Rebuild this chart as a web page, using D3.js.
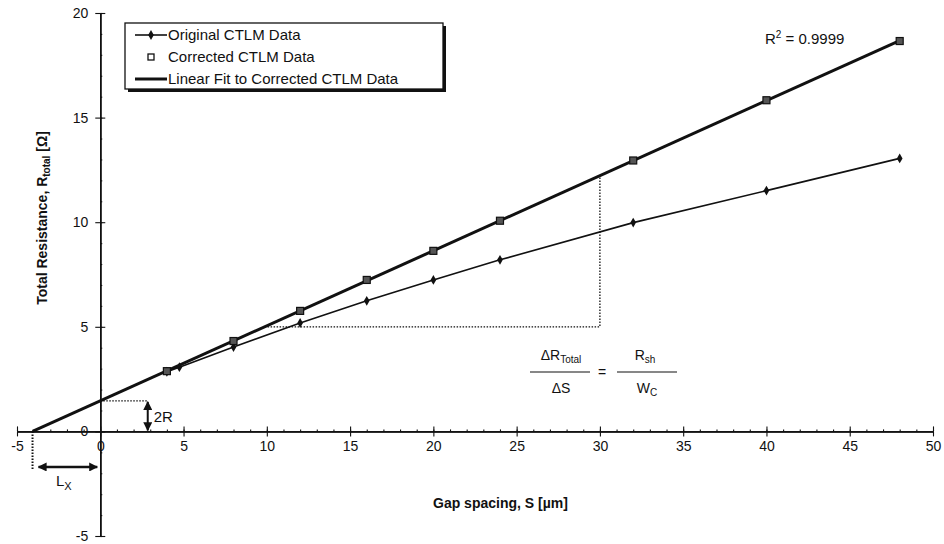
<!DOCTYPE html>
<html>
<head>
<meta charset="utf-8">
<script src="https://cdn.jsdelivr.net/npm/d3@7"></script>
<style>
  body { margin: 0; background: #fff; }
  text { font-family: "Liberation Sans", Arial, sans-serif; fill: #111; }
</style>
</head>
<body>
<svg id="svgCtlmChart" width="944" height="544"></svg>
<script>
// gap spacings of the corrected points [um]
const gapSpacing = [4, 8, 12, 16, 20, 24, 32, 40, 48];
const correctedR = [2.88, 4.32, 5.76, 7.24, 8.63, 10.07, 12.95, 15.83, 18.66];
// original measured data
const originalS = [4, 4.75, 8, 12, 16, 20, 24, 32, 40, 48];
const originalR = [2.85, 3.07, 4.03, 5.18, 6.24, 7.24, 8.2, 9.98, 11.51, 13.05];

const xTicks = [-5, 0, 5, 10, 15, 20, 25, 30, 35, 40, 45, 50];
const yTicks = [-5, 0, 5, 10, 15, 20];
const legendLabels = ["Original CTLM Data", "Corrected CTLM Data", "Linear Fit to Corrected CTLM Data"];
const rSquared = "0.9999";
// slope triangle drawn at these resistance / gap values
const slopeY = 5, slopeX = 30;
const lxArrowY = -1.7;
const twoRArrowX = 2.85;

const svg = d3.select("#svgCtlmChart");
const ink = "#111";

const x = d3.scaleLinear().domain([-5, 50]).range([17, 933]);
const y = d3.scaleLinear().domain([-5, 20]).range([536, 13]);

// least squares fit on corrected data
const mx = d3.mean(gapSpacing), my = d3.mean(correctedR);
let sxy = 0, sxx = 0;
gapSpacing.forEach(function(s, i) {
  sxy += (s - mx) * (correctedR[i] - my);
  sxx += (s - mx) * (s - mx);
});
const slope = sxy / sxx;
const intercept = my - slope * mx;
const lx = -intercept / slope;
const fit = function(s) { return intercept + slope * s; };

// arrow heads
const defs = svg.append("defs");
defs.append("marker")
  .attr("id", "arr")
  .attr("viewBox", "0 0 10 10")
  .attr("refX", 9).attr("refY", 5)
  .attr("markerWidth", 9).attr("markerHeight", 9)
  .attr("markerUnits", "userSpaceOnUse")
  .attr("orient", "auto-start-reverse")
  .append("path").attr("d", "M0,0 L10,5 L0,10 z").attr("fill", ink);

// axes crossing at the origin
const minorX = d3.range(-5, 51, 1);
const minorY = d3.range(-5, 21, 1);
const plainNum = function(d) { return String(d); };

const xAxisG = svg.append("g").attr("transform", "translate(0," + y(0) + ")");
xAxisG.call(d3.axisBottom(x).tickValues(minorX).tickSize(3).tickSizeOuter(0).tickFormat(""));
xAxisG.call(d3.axisTop(x).tickValues(minorX).tickSize(2).tickSizeOuter(0).tickFormat(""));
xAxisG.append("g").call(d3.axisTop(x).tickValues(xTicks).tickSize(5).tickSizeOuter(0).tickFormat(""));
xAxisG.append("g").call(d3.axisBottom(x).tickValues(xTicks).tickSize(5).tickSizeOuter(0).tickPadding(5).tickFormat(plainNum));

const yAxisG = svg.append("g").attr("transform", "translate(" + x(0) + ",0)");
yAxisG.call(d3.axisLeft(y).tickValues(minorY).tickSize(2).tickSizeOuter(0).tickFormat(""));
yAxisG.call(d3.axisRight(y).tickValues(minorY).tickSize(2).tickSizeOuter(0).tickFormat(""));
yAxisG.append("g").call(d3.axisRight(y).tickValues(yTicks).tickSize(5).tickSizeOuter(0).tickFormat(""));
yAxisG.append("g").call(d3.axisLeft(y).tickValues(yTicks).tickSize(5).tickSizeOuter(0).tickPadding(7).tickFormat(plainNum));

svg.selectAll(".domain").attr("stroke", ink).attr("stroke-width", 1.3);
svg.selectAll(".tick line").attr("stroke", ink).attr("stroke-width", 1.1);
svg.selectAll(".tick text").attr("font-size", 14).attr("fill", ink)
  .style("font-family", "'Liberation Sans', Arial, sans-serif");

// axis titles
svg.append("text")
  .attr("transform", "translate(47,218) rotate(-90)")
  .attr("text-anchor", "middle")
  .attr("font-size", 14).attr("font-weight", "bold")
  .html('Total Resistance, R<tspan font-size="10" dy="3">total</tspan><tspan dy="-3"> [Ω]</tspan>');

svg.append("text")
  .attr("x", 433).attr("y", 508)
  .attr("font-size", 14).attr("font-weight", "bold")
  .text("Gap spacing, S [µm]");

// dotted guide lines
const dotted = svg.append("g")
  .attr("stroke", ink).attr("stroke-width", 1.3)
  .attr("stroke-dasharray", "1.5,1.5").attr("fill", "none");
const sAtSlopeY = (slopeY - intercept) / slope;
dotted.append("path").attr("d", d3.line()([[x(sAtSlopeY), y(slopeY)], [x(slopeX), y(slopeY)], [x(slopeX), y(fit(slopeX))]]));
dotted.append("path").attr("d", d3.line()([[x(0), y(intercept)], [x(twoRArrowX), y(intercept)]]));
dotted.append("path").attr("stroke-width", 2).attr("d", d3.line()([[x(lx), y(0)], [x(lx), y(lxArrowY) + 2]]));

// 2R and Lx arrows
svg.append("line")
  .attr("x1", x(twoRArrowX)).attr("y1", y(intercept) + 1)
  .attr("x2", x(twoRArrowX)).attr("y2", y(0) - 1)
  .attr("stroke", ink).attr("stroke-width", 2)
  .attr("marker-start", "url(#arr)").attr("marker-end", "url(#arr)");
svg.append("text")
  .attr("x", x(twoRArrowX) + 6).attr("y", y(intercept / 2) + 6)
  .attr("font-size", 15).text("2R");

svg.append("line")
  .attr("x1", x(lx) + 6).attr("y1", y(lxArrowY))
  .attr("x2", x(0) - 3).attr("y2", y(lxArrowY))
  .attr("stroke", ink).attr("stroke-width", 2.4)
  .attr("marker-start", "url(#arr)").attr("marker-end", "url(#arr)");
svg.append("text")
  .attr("x", 56).attr("y", 486)
  .attr("font-size", 15)
  .html('L<tspan font-size="11" dy="4">X</tspan>');

// linear fit line
svg.append("path")
  .datum([lx, 48])
  .attr("fill", "none").attr("stroke", ink).attr("stroke-width", 3)
  .attr("d", d3.line().x(function(d) { return x(d); }).y(function(d) { return y(fit(d)); }));

// original data
const origData = originalS.map(function(s, i) { return { s: s, r: originalR[i] }; });
svg.append("path")
  .datum(origData)
  .attr("fill", "none").attr("stroke", ink).attr("stroke-width", 1.6)
  .attr("d", d3.line().x(function(d) { return x(d.s); }).y(function(d) { return y(d.r); }));
svg.selectAll(".orig")
  .data(origData).enter().append("path")
  .attr("class", "orig")
  .attr("transform", function(d) { return "translate(" + x(d.s) + "," + y(d.r) + ")"; })
  .attr("d", d3.symbol(d3.symbolDiamond, 28))
  .attr("fill", ink);

// corrected data
svg.selectAll(".corr")
  .data(gapSpacing).enter().append("rect")
  .attr("class", "corr")
  .attr("x", function(d) { return x(d) - 3.5; })
  .attr("y", function(d, i) { return y(correctedR[i]) - 3.5; })
  .attr("width", 7).attr("height", 7)
  .attr("fill", "#555").attr("stroke", ink).attr("stroke-width", 1.2);

// R squared label
svg.append("text")
  .attr("x", 765).attr("y", 44)
  .attr("font-size", 15)
  .html('R<tspan font-size="10" dy="-6">2</tspan><tspan dy="6"> = ' + rSquared + '</tspan>');

// slope formula
const eq = svg.append("g").attr("font-size", 14);
eq.append("text").attr("x", 561).attr("y", 360).attr("text-anchor", "middle")
  .html('ΔR<tspan font-size="10" dy="3">Total</tspan>');
eq.append("text").attr("x", 561).attr("y", 393).attr("text-anchor", "middle").text("ΔS");
eq.append("line").attr("x1", 530).attr("x2", 590).attr("y1", 372).attr("y2", 372)
  .attr("stroke", ink).attr("stroke-width", 1.2);
eq.append("text").attr("x", 602).attr("y", 377).attr("text-anchor", "middle").text("=");
eq.append("text").attr("x", 645).attr("y", 360).attr("text-anchor", "middle")
  .html('R<tspan font-size="10" dy="3">sh</tspan>');
eq.append("text").attr("x", 647).attr("y", 393).attr("text-anchor", "middle")
  .html('W<tspan font-size="10" dy="3">C</tspan>');
eq.append("line").attr("x1", 617).attr("x2", 677).attr("y1", 372).attr("y2", 372)
  .attr("stroke", ink).attr("stroke-width", 1.2);

// legend
const legend = svg.append("g");
legend.append("rect").attr("x", 128).attr("y", 26).attr("width", 318).attr("height", 66).attr("fill", ink);
legend.append("rect").attr("x", 125).attr("y", 23).attr("width", 318).attr("height", 66)
  .attr("fill", "#fff").attr("stroke", ink).attr("stroke-width", 1.3);
const rowY = [35, 57, 79];
legend.selectAll(".lt")
  .data(legendLabels).enter().append("text")
  .attr("class", "lt")
  .attr("x", 168).attr("y", function(d, i) { return rowY[i] + 5; })
  .attr("font-size", 15).text(function(d) { return d; });
legend.append("line").attr("x1", 135).attr("x2", 167).attr("y1", rowY[0]).attr("y2", rowY[0])
  .attr("stroke", ink).attr("stroke-width", 1.6);
legend.append("path").attr("transform", "translate(151," + rowY[0] + ")")
  .attr("d", d3.symbol(d3.symbolDiamond, 28)).attr("fill", ink);
legend.append("rect").attr("x", 148).attr("y", rowY[1] - 3).attr("width", 6).attr("height", 6)
  .attr("fill", "#fff").attr("stroke", ink).attr("stroke-width", 1.3);
legend.append("line").attr("x1", 135).attr("x2", 167).attr("y1", rowY[2]).attr("y2", rowY[2])
  .attr("stroke", ink).attr("stroke-width", 3);
</script>
</body>
</html>
